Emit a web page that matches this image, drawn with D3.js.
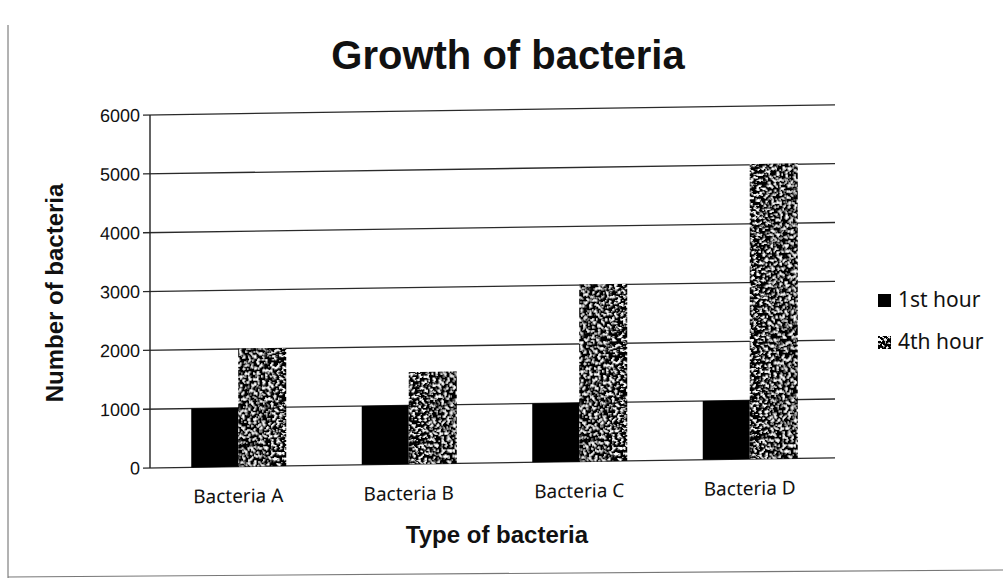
<!DOCTYPE html>
<html lang="en">
  <head>
    <meta charset="UTF-8" />
    <title>Growth of bacteria</title>
    <script src="https://d3js.org/d3.v7.min.js"></script>
    <style>
      body {
        margin: 0;
        background: #fff;
      }
      .tick-label {
        font-family: "Noto Sans", "Open Sans", sans-serif;
        font-size: 19px;
        fill: #111;
      }
      .legend-label {
        font-family: "Noto Sans", "Open Sans", sans-serif;
        font-size: 21px;
        fill: #111;
      }
      .num {
        font-family: "Liberation Sans", Arial, sans-serif;
        font-size: 18px;
        fill: #111;
      }
      .bold {
        font-family: "Liberation Sans", Arial, sans-serif;
        font-weight: bold;
        fill: #111;
      }
    </style>
  </head>
  <body>
    <svg width="1003" height="583"></svg>
    <script>
      const categories = ["Bacteria A", "Bacteria B", "Bacteria C", "Bacteria D"];
      const series = ["1st hour", "4th hour"];
      const firstHour = [1000, 1000, 1000, 1000];
      const fourthHour = [2000, 1550, 3000, 5000];
      const yTicks = [0, 1000, 2000, 3000, 4000, 5000, 6000];

      const svg = d3.select("svg");
      const defs = svg.append("defs");

      // speckled texture for the 4th hour bars (scanned look)
      const f = defs
        .append("filter")
        .attr("id", "speckle")
        .attr("x", 0)
        .attr("y", 0)
        .attr("width", 1)
        .attr("height", 1);
      f.append("feTurbulence")
        .attr("type", "fractalNoise")
        .attr("baseFrequency", 0.35)
        .attr("numOctaves", 3)
        .attr("seed", 7)
        .attr("result", "noise");
      f.append("feColorMatrix")
        .attr("in", "noise")
        .attr("type", "matrix")
        .attr("values", "0 0 0 0 0  0 0 0 0 0  0 0 0 0 0  8 0 0 0 -2.7")
        .attr("result", "dots");
      f.append("feFlood").attr("flood-color", "#fff").attr("result", "white");
      f.append("feMerge")
        .selectAll("feMergeNode")
        .data(["white", "dots"])
        .join("feMergeNode")
        .attr("in", (d) => d);

      const color = d3.scaleOrdinal().domain(series).range(["#000", "#111"]);

      // scanned page frame
      svg.append("line").attr("x1", 8).attr("x2", 8).attr("y1", 25).attr("y2", 578)
        .attr("stroke", "#666").attr("stroke-width", 1);
      svg.append("line").attr("x1", 8).attr("x2", 1003).attr("y1", 577).attr("y2", 570)
        .attr("stroke", "#777").attr("stroke-width", 1.2);

      svg.append("text")
        .attr("class", "bold")
        .attr("x", 508)
        .attr("y", 69)
        .attr("text-anchor", "middle")
        .style("font-size", "40px")
        .text("Growth of bacteria");

      const left = 150;
      const plot = svg
        .append("g")
        .attr("transform", `translate(${left},0) skewY(-0.85) translate(${-left},0)`);

      const x = d3.scaleBand().domain(categories).range([153, 835]);
      const x1 = d3.scaleBand().domain(series).range([0, 94]);
      const y = d3.scaleLinear().domain([0, 6000]).range([468, 115]);

      // gridlines
      plot.append("g")
        .selectAll("line")
        .data(yTicks)
        .join("line")
        .attr("x1", left - 7)
        .attr("x2", 835)
        .attr("y1", (d) => y(d))
        .attr("y2", (d) => y(d))
        .attr("stroke", "#2a2a2a")
        .attr("stroke-width", 1.3);

      plot.append("line")
        .attr("x1", left).attr("x2", left)
        .attr("y1", y(6000)).attr("y2", y(0))
        .attr("stroke", "#222").attr("stroke-width", 1.4);

      plot.append("g")
        .selectAll("text")
        .data(yTicks)
        .join("text")
        .attr("class", "num")
        .attr("x", left - 10)
        .attr("y", (d) => y(d))
        .attr("dy", "0.35em")
        .attr("text-anchor", "end")
        .text((d) => d);

      const rows = categories.map((c, i) => ({
        cat: c,
        values: [
          { s: series[0], v: firstHour[i] },
          { s: series[1], v: fourthHour[i] },
        ],
      }));

      const off = (x.bandwidth() - 94) / 2;
      plot.append("g")
        .selectAll("g")
        .data(rows)
        .join("g")
        .attr("transform", (d) => `translate(${x(d.cat) + off},0)`)
        .selectAll("rect")
        .data((d) => d.values)
        .join("rect")
        .attr("x", (d) => x1(d.s))
        .attr("width", x1.bandwidth())
        .attr("y", (d) => y(d.v))
        .attr("height", (d) => y(0) - y(d.v))
        .attr("fill", (d) => color(d.s))
        .attr("filter", (d) => (d.s === "4th hour" ? "url(#speckle)" : null));

      plot.append("g")
        .selectAll("text")
        .data(categories)
        .join("text")
        .attr("class", "tick-label")
        .attr("x", (d) => x(d) + x.bandwidth() / 2)
        .attr("y", 504)
        .attr("text-anchor", "middle")
        .text((d) => d);

      svg.append("text")
        .attr("class", "bold")
        .attr("x", 497)
        .attr("y", 543)
        .attr("text-anchor", "middle")
        .style("font-size", "24px")
        .text("Type of bacteria");

      svg.append("text")
        .attr("class", "bold")
        .attr("transform", "translate(63,293) rotate(-90)")
        .attr("text-anchor", "middle")
        .style("font-size", "24px")
        .text("Number of bacteria");

      // legend
      const legend = svg.append("g")
        .selectAll("g")
        .data(series)
        .join("g")
        .attr("transform", (d, i) => `translate(878,${300 + i * 42})`);
      legend.append("rect")
        .attr("x", 0)
        .attr("y", -6)
        .attr("width", 13)
        .attr("height", 13)
        .attr("fill", (d) => color(d))
        .attr("filter", (d) => (d === "4th hour" ? "url(#speckle)" : null));
      legend.append("text")
        .attr("class", "legend-label")
        .attr("x", 20)
        .attr("dy", "0.35em")
        .text((d) => d);
    </script>
  </body>
</html>
